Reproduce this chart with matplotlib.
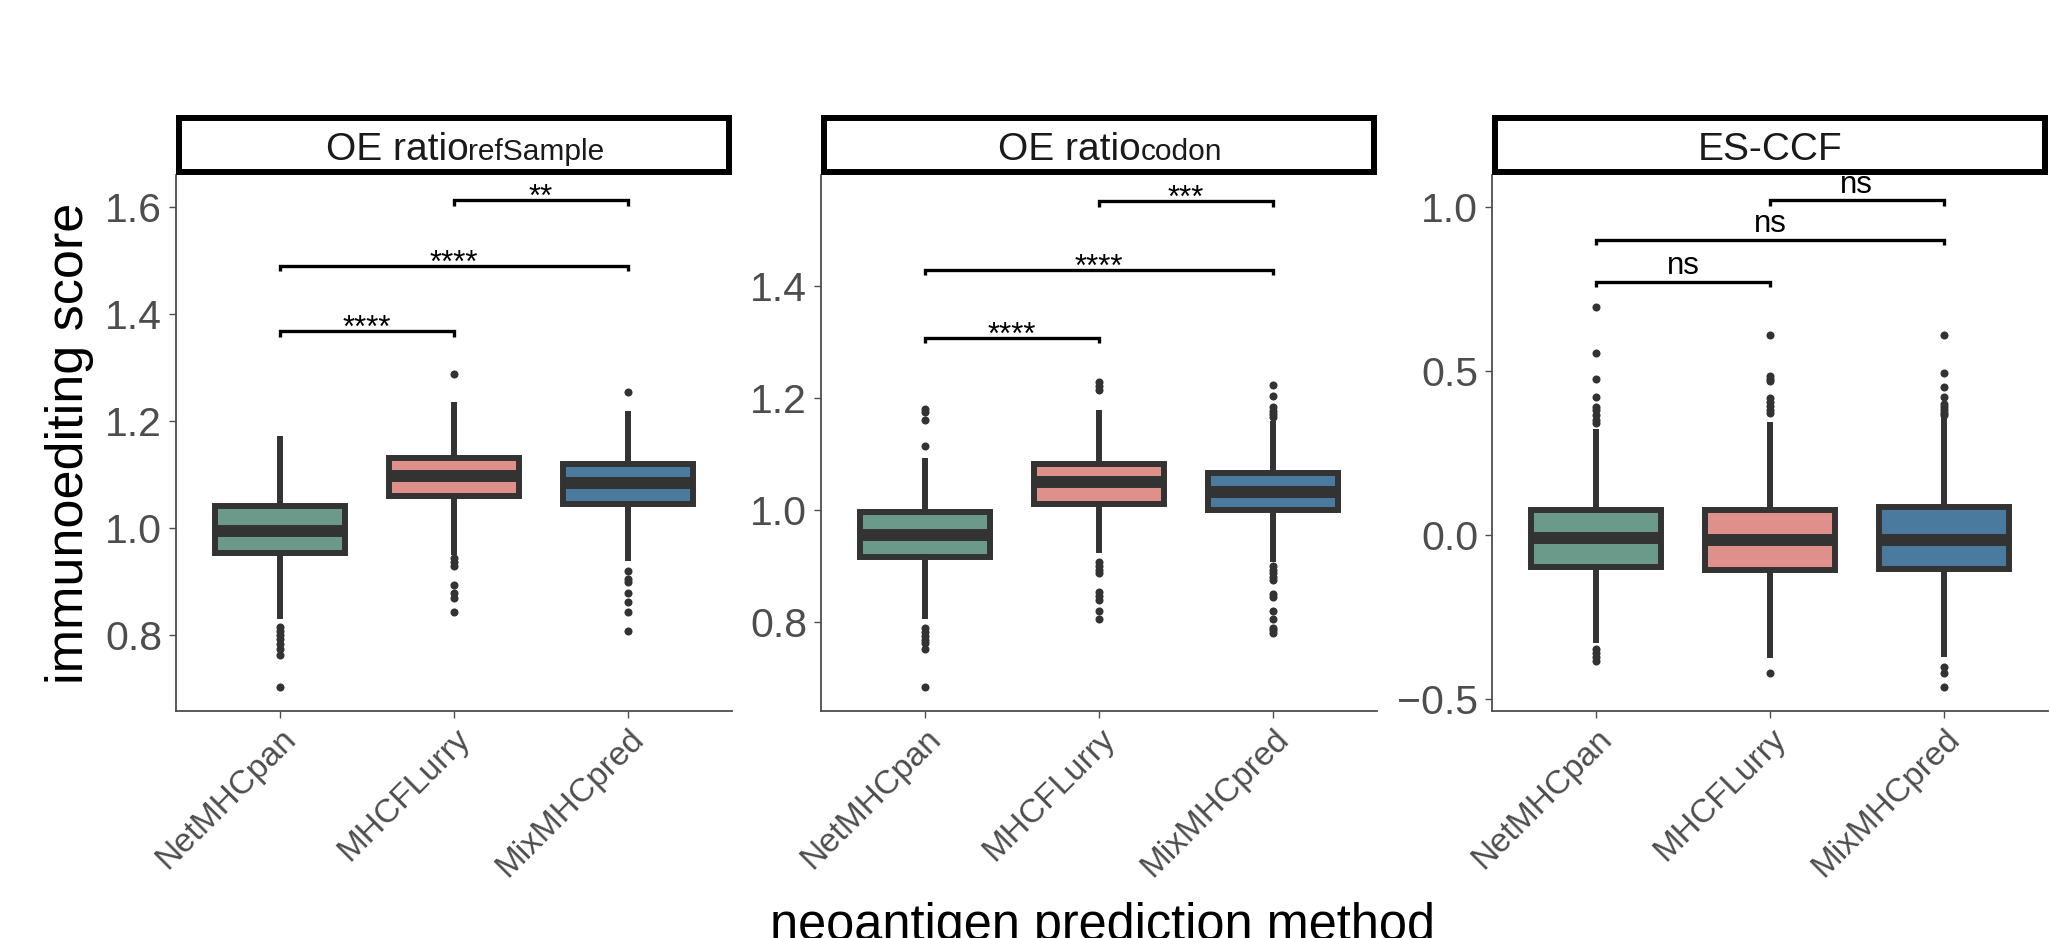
import matplotlib
matplotlib.use("Agg")
import matplotlib.pyplot as plt

plt.rcParams["font.family"] = ["Liberation Sans", "DejaVu Sans"]

METHODS = ["NetMHCpan", "MHCFLurry", "MixMHCpred"]
COLORS = ["#6B9A8B", "#E0908A", "#4A7A9E"]
EDGE = "#333333"

# panel titles (main part, smaller trailing part)
TITLES = [("OE ratio", "refSample"), ("OE ratio", "codon"), ("ES-CCF", "")]

# box statistics per panel, one value per method
Q1 = [[0.954, 1.060, 1.046], [0.916, 1.011, 1.000], [-0.096, -0.106, -0.102]]
MED = [[0.996, 1.098, 1.085], [0.955, 1.050, 1.033], [-0.010, -0.016, -0.016]]
Q3 = [[1.042, 1.131, 1.120], [0.996, 1.082, 1.066], [0.075, 0.077, 0.085]]
WHISLO = [[0.830, 0.950, 0.939], [0.806, 0.923, 0.907], [-0.330, -0.376, -0.373]]
WHISHI = [[1.172, 1.236, 1.219], [1.094, 1.179, 1.159], [0.323, 0.345, 0.359]]

FLIERS = [
    [
        [0.815, 0.808, 0.800, 0.793, 0.785, 0.774, 0.763, 0.704],
        [1.289, 0.944, 0.937, 0.930, 0.895, 0.880, 0.870, 0.844],
        [1.254, 0.920, 0.905, 0.900, 0.880, 0.863, 0.844, 0.809],
    ],
    [
        [1.115, 1.162, 1.175, 1.180, 0.790, 0.783, 0.775, 0.768, 0.762, 0.751, 0.684],
        [1.215, 1.222, 1.229, 0.907, 0.900, 0.893, 0.887, 0.854, 0.847, 0.840, 0.820, 0.806],
        [1.223, 1.204, 1.184, 1.178, 1.172, 1.166, 0.900, 0.893, 0.887, 0.881, 0.875,
         0.851, 0.845, 0.820, 0.806, 0.790, 0.785, 0.780],
    ],
    [
        [0.696, 0.556, 0.477, 0.422, 0.390, 0.380, 0.365, 0.350, 0.340,
         -0.348, -0.360, -0.372, -0.385],
        [0.610, 0.486, 0.476, 0.468, 0.417, 0.405, 0.392, 0.380, 0.371, -0.421],
        [0.610, 0.495, 0.451, 0.420, 0.400, 0.390, 0.380, 0.372, 0.365,
         -0.403, -0.421, -0.463],
    ],
]

# significance brackets: (group a, group b, height, label)
BRACKETS = [
    [(1, 2, 1.368, "****"), (1, 3, 1.490, "****"), (2, 3, 1.613, "**")],
    [(1, 2, 1.308, "****"), (1, 3, 1.429, "****"), (2, 3, 1.552, "***")],
    [(1, 2, 0.772, "ns"), (1, 3, 0.899, "ns"), (2, 3, 1.020, "ns")],
]

YLIMS = [(0.659, 1.660), (0.641, 1.599), (-0.536, 1.097)]
YTICKS = [[0.8, 1.0, 1.2, 1.4, 1.6], [0.8, 1.0, 1.2, 1.4], [-0.5, 0.0, 0.5, 1.0]]

W, H = 2050, 938
PANEL_LEFT = [176, 821, 1492]
PANEL_W = 556
PANEL_TOP, PANEL_BOTTOM = 175, 711


def fx(px):
    return px / W


def fy(py):
    return 1 - py / H


fig = plt.figure(figsize=(W / 100, H / 100), dpi=100)
renderer = fig.canvas.get_renderer()

for i in range(3):
    left = PANEL_LEFT[i]
    ax = fig.add_axes([fx(left), fy(PANEL_BOTTOM), PANEL_W / W, (PANEL_BOTTOM - PANEL_TOP) / H])

    stats = []
    for j in range(3):
        stats.append(dict(
            med=MED[i][j], q1=Q1[i][j], q3=Q3[i][j],
            whislo=WHISLO[i][j], whishi=WHISHI[i][j],
            fliers=FLIERS[i][j], label=METHODS[j],
        ))

    bp = ax.bxp(
        stats, positions=[1, 2, 3], widths=0.75, patch_artist=True,
        showcaps=False,
        boxprops=dict(edgecolor=EDGE, linewidth=4.3, joinstyle="miter"),
        whiskerprops=dict(color=EDGE, linewidth=4.3, solid_capstyle="butt"),
        medianprops=dict(color=EDGE, linewidth=8.6, solid_capstyle="butt"),
        flierprops=dict(marker="o", markersize=5.8, markerfacecolor=EDGE,
                        markeredgecolor="none", linestyle="none"),
    )
    for patch, c in zip(bp["boxes"], COLORS):
        patch.set_facecolor(c)

    ymin, ymax = YLIMS[i]
    tip = 0.01 * (ymax - ymin)
    for a, b, y, lab in BRACKETS[i]:
        ax.plot([a, a, b, b], [y - tip, y, y, y - tip], color="black",
                linewidth=2.4, solid_capstyle="butt", solid_joinstyle="miter")
        off = 5.4 if lab == "ns" else -4.3
        ax.annotate(lab, xy=((a + b) / 2, y), xytext=(0, off), textcoords="offset points",
                    ha="center", va="baseline", fontsize=22.5, color="black")

    ax.set_xlim(0.4, 3.6)
    ax.set_ylim(ymin, ymax)
    ax.set_yticks(YTICKS[i])
    ax.set_yticklabels([f"{v:.1f}".replace("-", "\u2212") for v in YTICKS[i]])
    ax.set_xticks([1, 2, 3])
    ax.set_xticklabels(METHODS, rotation=45, ha="right", va="top", rotation_mode="anchor")

    for side in ["top", "right"]:
        ax.spines[side].set_visible(False)
    for side in ["left", "bottom"]:
        ax.spines[side].set_color("#4D4D4D")
        ax.spines[side].set_linewidth(1.3)
    ax.tick_params(axis="y", length=5, width=1.0, color="#4D4D4D", pad=5,
                   labelsize=29.5, labelcolor="#4D4D4D")
    ax.tick_params(axis="x", length=5, width=1.0, color="#4D4D4D", pad=4,
                   labelsize=24, labelcolor="#4D4D4D")

    # strip with title
    sax = fig.add_axes([fx(left + 3), fy(172), (PANEL_W - 6) / W, 54 / H])
    sax.set_xticks([])
    sax.set_yticks([])
    for sp in sax.spines.values():
        sp.set_linewidth(4.3)
        sp.set_color("black")
    main, sub = TITLES[i]
    base = 0.231
    if not sub:
        sax.text(0.5, base, main, ha="center", va="baseline", fontsize=28,
                 color="#1A1A1A", transform=sax.transAxes)
    else:
        t1 = sax.text(0, base, main, ha="left", va="baseline", fontsize=28,
                      color="#1A1A1A", transform=sax.transAxes)
        t2 = sax.text(0, base, sub, ha="left", va="baseline", fontsize=21.5,
                      color="#1A1A1A", transform=sax.transAxes)
        w1 = t1.get_window_extent(renderer).width
        w2 = t2.get_window_extent(renderer).width
        axw = sax.get_window_extent(renderer).width
        x0 = 0.5 - (w1 + w2) / 2 / axw + 0.02
        t1.set_x(x0)
        t2.set_x(x0 + w1 / axw)

fig.text(fx(70), fy((PANEL_TOP + PANEL_BOTTOM) / 2), "immunoediting score",
         rotation=90, ha="center", va="center", fontsize=37.5, color="black")
fig.text(fx(1102), fy(940), "neoantigen prediction method",
         ha="center", va="baseline", fontsize=36.4, color="black")

fig.savefig("out.png", dpi=100)
